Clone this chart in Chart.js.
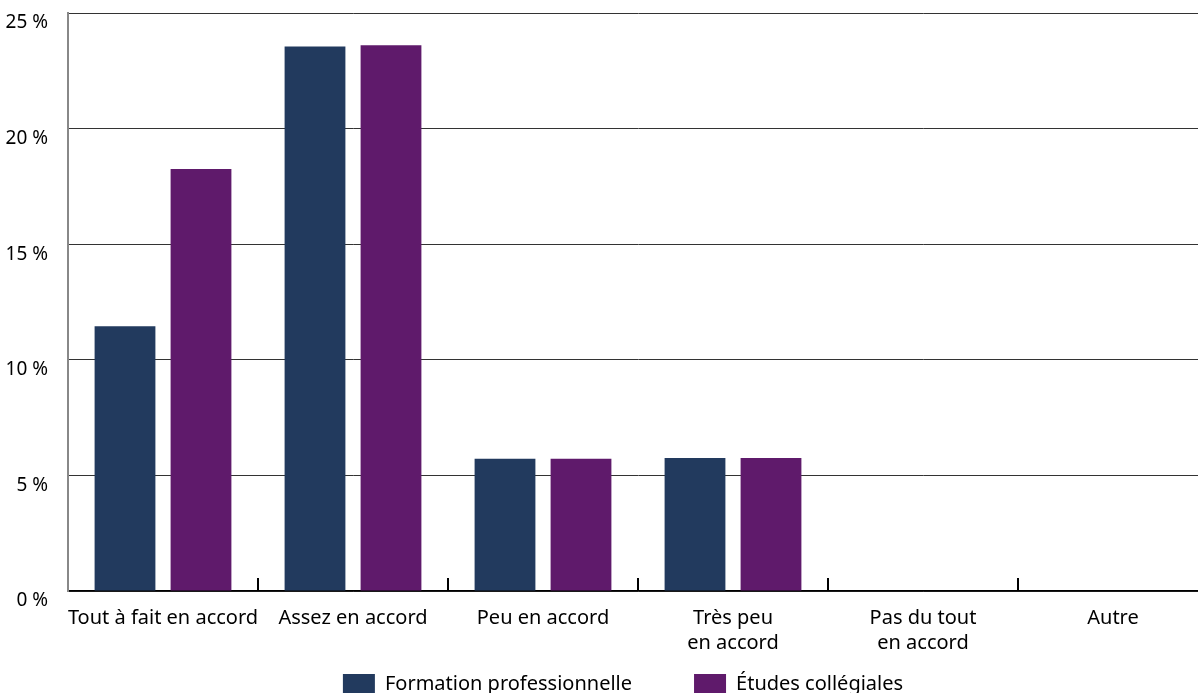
<!DOCTYPE html>
<html lang="fr">
<head>
<meta charset="utf-8">
<script src="https://cdn.jsdelivr.net/npm/chart.js@4.4.1/dist/chart.umd.min.js"></script>
<style>
  html, body { margin: 0; padding: 0; background: #fff; overflow: hidden; }
  #wrap { width: 1210px; height: 704px; }
</style>
</head>
<body>
<div id="wrap"><canvas id="chart"></canvas></div>
<script>
var categories = [
    'Tout à fait en accord',
    'Assez en accord',
    'Peu en accord',
    ['Très peu', 'en accord'],
    ['Pas du tout', 'en accord'],
    'Autre'
];
var formationPro = [11.45, 23.55, 5.72, 5.75, 0, 0];
var etudesCollegiales = [18.25, 23.6, 5.72, 5.75, 0, 0];
var yTicks = [0, 5, 10, 15, 20, 25];

var FONT = '"Noto Sans", Roboto, sans-serif';

// short upward marks between categories on the x axis
var categoryTicks = {
    id: 'categoryTicks',
    afterDatasetsDraw: function(chart) {
        var x = chart.scales.x;
        var ctx = chart.ctx;
        var bottom = chart.chartArea.bottom;
        ctx.save();
        ctx.strokeStyle = '#000';
        ctx.lineWidth = 2;
        for (var i = 1; i < categories.length; i++) {
            var px = Math.round((x.getPixelForValue(i - 1) + x.getPixelForValue(i)) / 2);
            ctx.beginPath();
            ctx.moveTo(px, bottom);
            ctx.lineTo(px, bottom - 13);
            ctx.stroke();
        }
        ctx.restore();
    }
};

var ctx = document.getElementById('chart').getContext('2d');
new Chart(ctx, {
    type: 'bar',
    data: {
        labels: categories,
        datasets: [{
            label: 'Formation professionnelle',
            data: formationPro,
            backgroundColor: '#223a5e'
        }, {
            label: 'Études collégiales',
            data: etudesCollegiales,
            backgroundColor: '#5f1a6b'
        }]
    },
    options: {
        responsive: true,
        maintainAspectRatio: false,
        animation: false,
        layout: { padding: { left: 5, right: 2, top: 13, bottom: 0 } },
        datasets: {
            bar: { categoryPercentage: 0.8, barPercentage: 0.8 }
        },
        plugins: {
            tooltip: { enabled: false },
            legend: {
                position: 'bottom',
                fullSize: false,
                labels: {
                    font: { family: FONT, size: 20 },
                    color: '#000',
                    boxWidth: 32,
                    boxHeight: 20,
                    padding: 12,
                    // wider gap between the two entries
                    generateLabels: function(chart) {
                        var items = Chart.defaults.plugins.legend.labels.generateLabels(chart);
                        items.forEach(function(item, i) {
                            item.text = item.text + (i === 0 ? '\u2003\u2003\u2002' : '\u2003\u2002');
                        });
                        return items;
                    }
                }
            }
        },
        scales: {
            x: {
                grid: { display: false },
                border: { display: true, color: '#000', width: 1.5 },
                ticks: {
                    color: '#000',
                    font: { family: FONT, size: 20, lineHeight: 1.25 },
                    maxRotation: 0,
                    autoSkip: false,
                    padding: 7
                },
                afterFit: function(axis) {
                    axis.height = 71;
                }
            },
            y: {
                min: 0,
                max: 25,
                afterBuildTicks: function(axis) {
                    axis.ticks = yTicks.map(function(v) { return { value: v }; });
                },
                grid: { color: '#333', lineWidth: 1, drawTicks: false },
                border: { display: true, color: '#888', width: 2 },
                ticks: {
                    color: '#000',
                    font: { family: FONT, size: 19 },
                    padding: 20,
                    labelOffset: 10,
                    callback: function(v) { return v + ' %'; }
                },
                afterFit: function(axis) {
                    axis.width = 63;
                    axis.paddingTop = 0;
                    axis.paddingBottom = 0;
                }
            }
        }
    },
    plugins: [categoryTicks]
});
</script>
</body>
</html>
